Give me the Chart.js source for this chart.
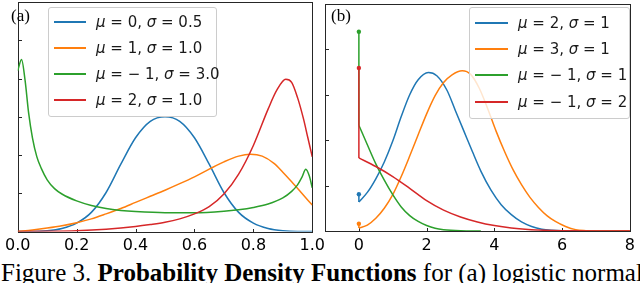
<!DOCTYPE html>
<html>
<head>
<meta charset="utf-8">
<script src="https://cdn.jsdelivr.net/npm/chart.js@4.4.1/dist/chart.umd.min.js"></script>
<style>
  html, body { margin: 0; padding: 0; background: #fff; }
  #page { position: relative; width: 640px; height: 283px; overflow: hidden; background: #fff; }
  canvas { position: absolute; top: 0; }
  #ca { left: 0; }
  #cb { left: 320px; }
  .legend { position: absolute; background: rgba(255,255,255,0.8); border: 1px solid #cccccc; border-radius: 3px; box-sizing: border-box; }
  .row { position: absolute; left: 0; height: 20px; white-space: nowrap; }
  .row .ln { position: absolute; top: 9px; height: 2px; }
  .row .tx { position: absolute; top: 0; font: 15px "DejaVu Sans"; line-height: 20px; color: #1a1a1a; }
  .tx i { font-style: italic; }
  .panel { position: absolute; font: 17px "Liberation Serif"; color: #000; }
  #caption { position: absolute; left: 1px; top: 259px; font: 25px "Liberation Serif"; line-height: 28px; white-space: nowrap; color: #000; }
</style>
</head>
<body>
<div id="page">
  <canvas id="ca" width="330" height="255"></canvas>
  <canvas id="cb" width="320" height="255"></canvas>
  <div class="panel" style="left:11px;top:6px;">(a)</div>
  <div class="panel" style="left:331px;top:6px;">(b)</div>
  <div class="legend" id="la" style="left:48px;top:7px;width:169px;height:110px;"></div>
  <div class="legend" id="lb" style="left:469px;top:7px;width:161px;height:112px;"></div>
  <div id="caption">Figure 3. <b>Probability Density Functions</b> for (a) logistic normal</div>
</div>
<script>
// colours (matplotlib tab10)
var colors = ['#1f77b4', '#ff7f0e', '#2ca02c', '#d62728'];

// (a) logistic normal
var labelsA = ['μ = 0, σ = 0.5', 'μ = 1, σ = 1.0', 'μ = − 1, σ = 3.0', 'μ = 2, σ = 1.0'];
var aBlueX = [0, 0.05, 0.1, 0.15, 0.2, 0.25, 0.3, 0.35, 0.4, 0.45, 0.5, 0.55, 0.6, 0.65, 0.7, 0.75, 0.8, 0.85, 0.9, 0.95, 1.0];
var aBlueY = [0, 0, 0.02, 0.08, 0.22, 0.5, 1.02, 1.76, 2.45, 2.88, 3.0, 2.88, 2.45, 1.76, 1.02, 0.5, 0.22, 0.08, 0.02, 0, 0];
var aOrangeX = [0, 0.05, 0.1, 0.15, 0.2, 0.25, 0.3, 0.35, 0.4, 0.45, 0.5, 0.55, 0.6, 0.65, 0.7, 0.75, 0.79, 0.83, 0.87, 0.9, 0.93, 0.96, 1.0];
var aOrangeY = [0, 0.04, 0.09, 0.15, 0.23, 0.33, 0.46, 0.6, 0.76, 0.92, 1.08, 1.25, 1.43, 1.63, 1.82, 1.97, 2.02, 1.97, 1.78, 1.55, 1.3, 1.04, 0.69];
var aGreenX = [0, 0.013, 0.025, 0.037, 0.05, 0.065, 0.08, 0.1, 0.125, 0.15, 0.2, 0.25, 0.3, 0.35, 0.4, 0.5, 0.6, 0.7, 0.75, 0.8, 0.85, 0.9, 0.93, 0.95, 0.965, 0.978, 0.99, 1.0];
var aGreenY = [4.2, 4.5, 3.95, 3.1, 2.45, 1.95, 1.65, 1.35, 1.12, 0.98, 0.8, 0.68, 0.6, 0.55, 0.52, 0.49, 0.49, 0.53, 0.57, 0.63, 0.72, 0.88, 1.05, 1.22, 1.42, 1.63, 1.45, 1.14];
var aRedX = [0, 0.1, 0.2, 0.3, 0.4, 0.45, 0.5, 0.55, 0.6, 0.65, 0.7, 0.75, 0.8, 0.85, 0.88, 0.91, 0.93, 0.95, 0.97, 0.985, 1.0];
var aRedY = [0, 0.005, 0.02, 0.06, 0.13, 0.18, 0.24, 0.33, 0.46, 0.65, 0.98, 1.5, 2.25, 3.2, 3.7, 3.98, 3.9, 3.5, 2.95, 2.45, 1.95];
var aXTicks = [0, 0.2, 0.4, 0.6, 0.8, 1.0];
var aYTicks = [0, 1, 2, 3, 4, 5, 6];

// (b) rectified normal, with point mass at 0
var labelsB = ['μ = 2, σ = 1', 'μ = 3, σ = 1', 'μ = − 1, σ = 1', 'μ = − 1, σ = 2'];
var bBlueX = [0, 0.25, 0.5, 0.75, 1.0, 1.25, 1.5, 1.75, 2.05, 2.3, 2.6, 2.85, 3.1, 3.35, 3.6, 3.9, 4.2, 4.5, 4.8, 5.1, 5.4, 5.7, 6.0, 7.0, 8.0];
var bBlueY = [0.64, 0.85, 1.15, 1.52, 1.98, 2.52, 3.0, 3.33, 3.49, 3.42, 3.1, 2.65, 2.2, 1.75, 1.32, 0.9, 0.58, 0.36, 0.2, 0.1, 0.04, 0.015, 0.005, 0, 0];
var bOrangeX = [0, 0.25, 0.5, 0.75, 1.0, 1.25, 1.5, 1.75, 2.0, 2.25, 2.5, 2.75, 3.05, 3.3, 3.55, 3.8, 4.05, 4.3, 4.55, 4.8, 5.05, 5.3, 5.55, 5.8, 6.1, 6.4, 6.7, 7.0, 8.0];
var bOrangeY = [0.065, 0.13, 0.28, 0.5, 0.8, 1.2, 1.65, 2.12, 2.58, 2.98, 3.27, 3.44, 3.53, 3.45, 3.15, 2.7, 2.2, 1.75, 1.35, 1.02, 0.74, 0.52, 0.34, 0.21, 0.1, 0.03, 0.008, 0, 0];
var bGreenX = [0, 0.25, 0.5, 0.75, 1.0, 1.25, 1.5, 1.75, 2.0, 2.25, 2.5, 3.0, 3.6];
var bGreenY = [2.33, 1.9, 1.48, 1.12, 0.8, 0.53, 0.34, 0.21, 0.12, 0.06, 0.03, 0.006, 0];
var bRedX = [0, 0.5, 1.0, 1.5, 2.0, 2.5, 3.0, 3.5, 4.0, 4.5, 5.0, 5.5, 6.0, 7.0, 8.0];
var bRedY = [1.61, 1.42, 1.2, 0.94, 0.67, 0.46, 0.31, 0.2, 0.12, 0.065, 0.032, 0.015, 0.007, 0.001, 0];
var bMass = [0.81, 0.16, 4.39, 3.59];
var bXTicks = [0, 2, 4, 6, 8];
var bYTicks = [0, 1, 2, 3, 4, 5];

function pts(xs, ys) {
  return xs.map(function (x, i) { return { x: x, y: ys[i] }; });
}

// box and inward ticks like the matplotlib axes
var frame = {
  id: 'frame',
  beforeDatasetsDraw: function (chart) {
    var ctx = chart.ctx, a = chart.chartArea, x = chart.scales.x, y = chart.scales.y;
    var l = Math.round(a.left) + 0.5, r = Math.round(a.right) + 0.5;
    var t = Math.round(a.top) + 0.5, b = Math.round(a.bottom) + 0.5;
    ctx.save();
    ctx.strokeStyle = '#262626';
    ctx.lineWidth = 1;
    ctx.strokeRect(l, t, r - l, b - t);
    ctx.beginPath();
    x.ticks.forEach(function (tk) {
      var px = Math.round(x.getPixelForValue(tk.value)) + 0.5;
      ctx.moveTo(px, b); ctx.lineTo(px, b - 3.5);
    });
    y.ticks.forEach(function (tk) {
      var py = Math.round(y.getPixelForValue(tk.value)) + 0.5;
      ctx.moveTo(l, py); ctx.lineTo(l + 3.5, py);
    });
    ctx.stroke();
    ctx.restore();
  }
};

function makeChart(id, datasets, xMin, xMax, yMax, xTicks, yTicks, fmt, pad, axisH) {
  return new Chart(document.getElementById(id), {
    type: 'scatter',
    data: { datasets: datasets },
    options: {
      responsive: false,
      animation: false,
      layout: { padding: pad },
      plugins: { legend: { display: false }, tooltip: { enabled: false } },
      scales: {
        x: {
          type: 'linear', min: xMin, max: xMax,
          afterBuildTicks: function (s) { s.ticks = xTicks.map(function (v) { return { value: v }; }); },
          afterFit: function (s) { s.height = axisH; },
          grid: { display: false, drawTicks: false },
          border: { display: false },
          ticks: {
            autoSkip: false, maxRotation: 0, padding: 5, color: '#000',
            font: { family: 'DejaVu Sans', size: 16 },
            callback: function (v) { return fmt(v); }
          }
        },
        y: {
          type: 'linear', min: 0, max: yMax,
          afterBuildTicks: function (s) { s.ticks = yTicks.map(function (v) { return { value: v }; }); },
          afterFit: function (s) { s.width = 0; },
          grid: { display: false, drawTicks: false },
          border: { display: false },
          ticks: { display: false }
        }
      }
    },
    plugins: [frame]
  });
}

function curve(data, color) {
  return {
    data: data, showLine: true, borderColor: color, borderWidth: 1.5,
    pointRadius: 0, fill: false, cubicInterpolationMode: 'monotone'
  };
}

// panel (a)
var seriesA = [[aBlueX, aBlueY], [aOrangeX, aOrangeY], [aGreenX, aGreenY], [aRedX, aRedY]];
var dsA = seriesA.map(function (s, i) { return curve(pts(s[0], s[1]), colors[i]); });
dsA.reverse(); // first dataset is drawn last in Chart.js
makeChart('ca', dsA, 0, 1, 6, aXTicks, aYTicks,
  function (v) { return v.toFixed(1); }, { left: 5, right: 14, top: 2, bottom: 0 }, 23.5);

// panel (b)
var seriesB = [[bBlueX, bBlueY], [bOrangeX, bOrangeY], [bGreenX, bGreenY], [bRedX, bRedY]];
var dsB = [];
seriesB.forEach(function (s, i) {
  dsB.push(curve(pts(s[0], s[1]), colors[i]));
  dsB.push({
    data: [{ x: 0, y: bMass[i] }, { x: 0, y: s[1][0] }], showLine: true,
    borderColor: colors[i], borderWidth: 1.5, tension: 0,
    pointRadius: [2.2, 0], pointBorderWidth: 0, pointBackgroundColor: colors[i]
  });
});
dsB.reverse();
makeChart('cb', dsB, -1, 8, 5, bXTicks, bYTicks,
  function (v) { return String(v); }, { left: 5, right: 4, top: 2, bottom: 0 }, 24);

// legends as html overlays
function legend(id, labels, rowTops, lineLeft, lineW, textLeft) {
  var box = document.getElementById(id);
  labels.forEach(function (lab, i) {
    var row = document.createElement('div');
    row.className = 'row';
    row.style.top = (rowTops[i] - 10) + 'px';
    var ln = document.createElement('div');
    ln.className = 'ln';
    ln.style.left = lineLeft + 'px';
    ln.style.width = lineW + 'px';
    ln.style.background = colors[i];
    var tx = document.createElement('div');
    tx.className = 'tx';
    tx.style.left = textLeft + 'px';
    tx.innerHTML = lab.replace(/μ/g, '<i>μ</i>').replace(/σ/g, '<i>σ</i>');
    row.appendChild(ln);
    row.appendChild(tx);
    box.appendChild(row);
  });
}
legend('la', labelsA, [14, 40, 66, 92], 5, 32, 47);
legend('lb', labelsB, [15, 41, 67, 94], 5, 33, 48);
</script>
</body>
</html>
